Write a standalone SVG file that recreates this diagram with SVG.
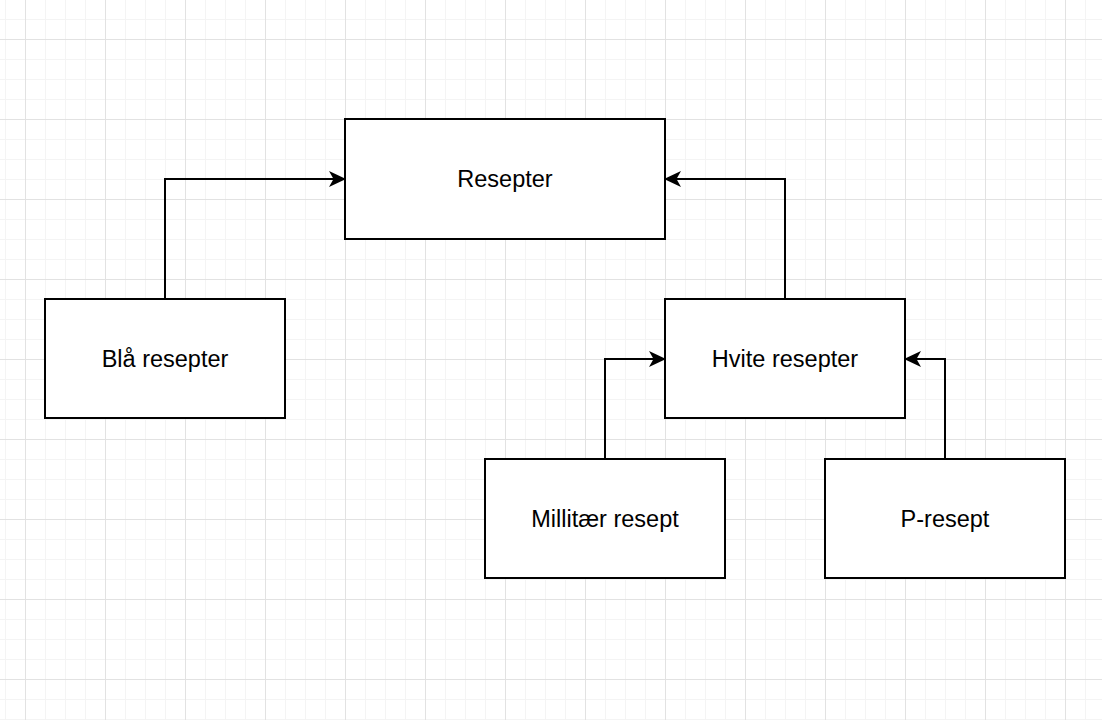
<svg xmlns="http://www.w3.org/2000/svg" width="1102" height="720" viewBox="0 0 1102 720">
<defs>
<pattern id="minor" width="20" height="20" patternUnits="userSpaceOnUse" x="5" y="19">
<path d="M0 0.5H20M0.5 0V20" fill="none" stroke="#f4f4f4" stroke-width="1"/>
</pattern>
<pattern id="major" width="80" height="80" patternUnits="userSpaceOnUse" x="25" y="39">
<path d="M0 0.5H80M0.5 0V80" fill="none" stroke="#e2e2e2" stroke-width="1"/>
</pattern>
<marker id="arr" viewBox="0 0 17 16" refX="16" refY="8" markerWidth="17" markerHeight="16" markerUnits="userSpaceOnUse" orient="auto">
<path d="M0 0L17 8L0 16L4.5 8Z" fill="#000"/>
</marker>
</defs>
<style>
.box{fill:#fff;stroke:#000;stroke-width:2}
.lbl{font-family:"Liberation Sans",Arial,sans-serif;font-size:23.5px;fill:#000;text-anchor:middle;dominant-baseline:central}
.edge{fill:none;stroke:#000;stroke-width:2;marker-end:url(#arr)}
</style>
<rect width="1102" height="720" fill="#fff"/>
<rect width="1102" height="720" fill="url(#minor)"/>
<rect width="1102" height="720" fill="url(#major)"/>
<g id="connectors">
<path class="edge" d="M165 299V179H345"/>
<path class="edge" d="M785 299V179H665"/>
<path class="edge" d="M605 459V359H665"/>
<path class="edge" d="M945 459V359H905"/>
</g>
<g id="resepter"><rect class="box" x="345" y="119" width="320" height="120"/><text class="lbl" x="505" y="179">Resepter</text></g>
<g id="bla"><rect class="box" x="45" y="299" width="240" height="119"/><text class="lbl" x="165" y="359">Blå resepter</text></g>
<g id="hvite"><rect class="box" x="665" y="299" width="240" height="119"/><text class="lbl" x="785" y="359">Hvite resepter</text></g>
<g id="militaer"><rect class="box" x="485" y="459" width="240" height="119"/><text class="lbl" x="605" y="519">Millitær resept</text></g>
<g id="presept"><rect class="box" x="825" y="459" width="240" height="119"/><text class="lbl" x="945" y="519">P-resept</text></g>
</svg>
